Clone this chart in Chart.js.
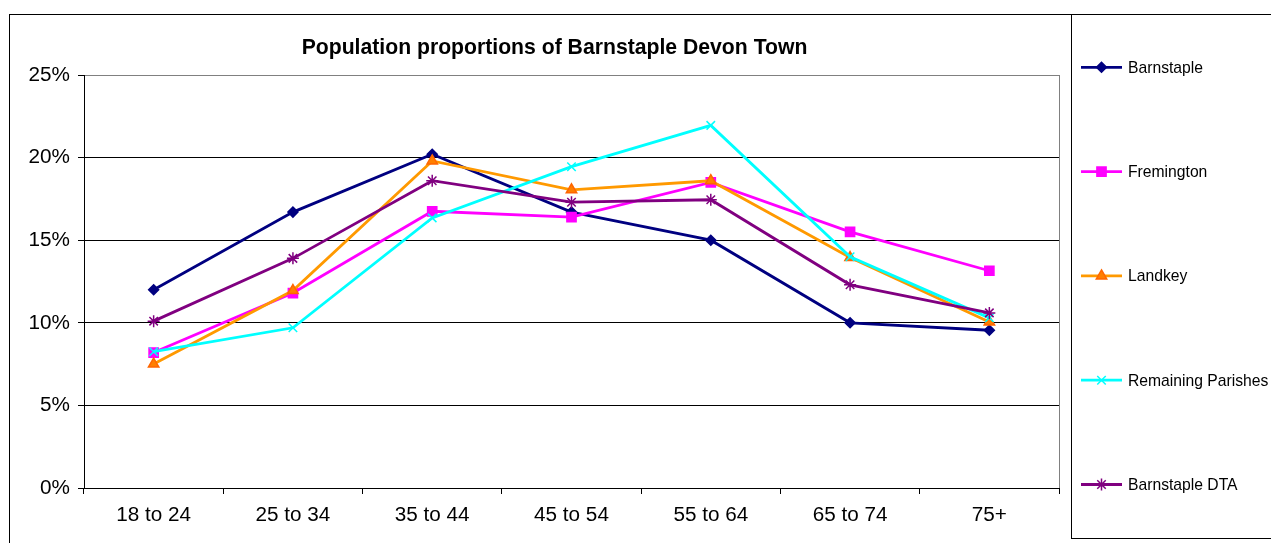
<!DOCTYPE html>
<html>
<head>
<meta charset="utf-8">
<script src="https://cdn.jsdelivr.net/npm/chart.js@4/dist/chart.umd.min.js"></script>
<style>
  html, body { margin: 0; padding: 0; background: #fff; }
  canvas { display: block; }
</style>
</head>
<body>
<canvas id="chart" width="1271" height="543"></canvas>
<script>
const FONT = "'Liberation Sans', Arial, sans-serif";

// values in percent
const categories = ['18 to 24', '25 to 34', '35 to 44', '45 to 54', '55 to 64', '65 to 74', '75+'];
const seriesNames = ['Barnstaple', 'Fremington', 'Landkey', 'Remaining Parishes', 'Barnstaple DTA'];
const barnstaple    = [12.0, 16.7, 20.2, 16.7, 15.0, 10.0, 9.55];
const fremington    = [8.2, 11.8, 16.75, 16.4, 18.5, 15.5, 13.15];
const landkey       = [7.5, 11.95, 19.8, 18.05, 18.6, 13.95, 10.05];
const remaining     = [8.25, 9.7, 16.35, 19.45, 21.95, 14.0, 10.3];
const barnstapleDTA = [10.1, 13.9, 18.6, 17.3, 17.45, 12.3, 10.6];
const yTicks = [0, 5, 10, 15, 20, 25];
const chartTitle = 'Population proportions of Barnstaple Devon Town';

function series(i, data, color, style, radius, fill, border) {
    return {
        label: seriesNames[i],
        data: data,
        borderColor: color,
        backgroundColor: color,
        borderWidth: 2.8,
        tension: 0,
        pointStyle: style,
        pointRadius: radius,
        pointHoverRadius: radius,
        pointBackgroundColor: fill || color,
        pointBorderColor: border || color,
        pointBorderWidth: 1.5,
        order: 10 - i
    };
}

var chartData = {
    labels: categories,
    datasets: [
        series(0, barnstaple, '#000080', 'rectRot', 5),
        series(1, fremington, '#FF00FF', 'rect', 6.5),
        series(2, landkey, '#FF9900', 'triangle', 6, '#FF7F00', '#FF6600'),
        series(3, remaining, '#00FFFF', 'crossRot', 6),
        series(4, barnstapleDTA, '#800080', 'star', 6)
    ]
};

// outer frame, legend box, grey right edge of plot, title and the legend
const framePlugin = {
    id: 'frame',
    afterDraw(chart) {
        const ctx = chart.ctx;
        const a = chart.chartArea;
        ctx.save();
        ctx.strokeStyle = '#000';
        ctx.lineWidth = 1;
        ctx.strokeRect(9.5, 14.5, 1400, 700);
        ctx.strokeRect(1071.5, 14.5, 400, 524);

        ctx.strokeStyle = '#808080';
        ctx.beginPath();
        ctx.moveTo(Math.round(a.right) + 0.5, a.top);
        ctx.lineTo(Math.round(a.right) + 0.5, a.bottom);
        ctx.stroke();

        ctx.fillStyle = '#000';
        ctx.font = 'bold 21.2px ' + FONT;
        ctx.textAlign = 'center';
        ctx.textBaseline = 'middle';
        ctx.fillText(chartTitle, 554.5, 48);

        chart.data.datasets.forEach((ds, i) => {
            const y = 67.3 + i * 104.3;
            ctx.strokeStyle = ds.borderColor;
            ctx.lineWidth = ds.borderWidth;
            ctx.beginPath();
            ctx.moveTo(1081, y);
            ctx.lineTo(1122, y);
            ctx.stroke();
            ctx.fillStyle = ds.pointBackgroundColor;
            ctx.strokeStyle = ds.pointBorderColor;
            ctx.lineWidth = ds.pointBorderWidth;
            Chart.helpers.drawPoint(ctx, {
                pointStyle: ds.pointStyle,
                radius: ds.pointRadius,
                rotation: 0,
                borderWidth: ds.pointBorderWidth
            }, 1101.5, y);
            ctx.fillStyle = '#000';
            ctx.font = '15.7px ' + FONT;
            ctx.textBaseline = 'middle';
            ctx.textAlign = 'left';
            ctx.fillText(ds.label, 1128, y + 1);
        });
        ctx.restore();
    }
};

var chartOptions = {
    animation: false,
    responsive: false,
    devicePixelRatio: 1,
    layout: { padding: { left: 0, right: 212, top: 75, bottom: 0 } },
    plugins: {
        legend: { display: false },
        tooltip: { enabled: false },
        title: { display: false }
    },
    scales: {
        x: {
            type: 'category',
            offset: true,
            afterFit: s => { s.height = 55; },
            border: { color: '#000', width: 1 },
            grid: {
                offset: true,
                drawOnChartArea: false,
                drawTicks: true,
                tickLength: 6,
                color: '#000'
            },
            ticks: {
                color: '#000',
                padding: 9,
                maxRotation: 0,
                font: { family: FONT, size: 20.7 }
            }
        },
        y: {
            min: 0,
            max: 25,
            afterFit: s => { s.width = 84; },
            afterBuildTicks: s => { s.ticks = yTicks.map(v => ({ value: v })); },
            border: { color: '#000', width: 1 },
            grid: {
                color: c => (c.tick && c.tick.value === 25) ? '#808080' : '#000',
                tickColor: '#000',
                tickLength: 6
            },
            ticks: {
                color: '#000',
                padding: 8,
                font: { family: FONT, size: 20.7 },
                callback: v => v + '%'
            }
        }
    }
};

var chart = new Chart(document.getElementById('chart'), {
    type: 'line',
    data: chartData,
    options: chartOptions,
    plugins: [framePlugin]
});
</script>
</body>
</html>
